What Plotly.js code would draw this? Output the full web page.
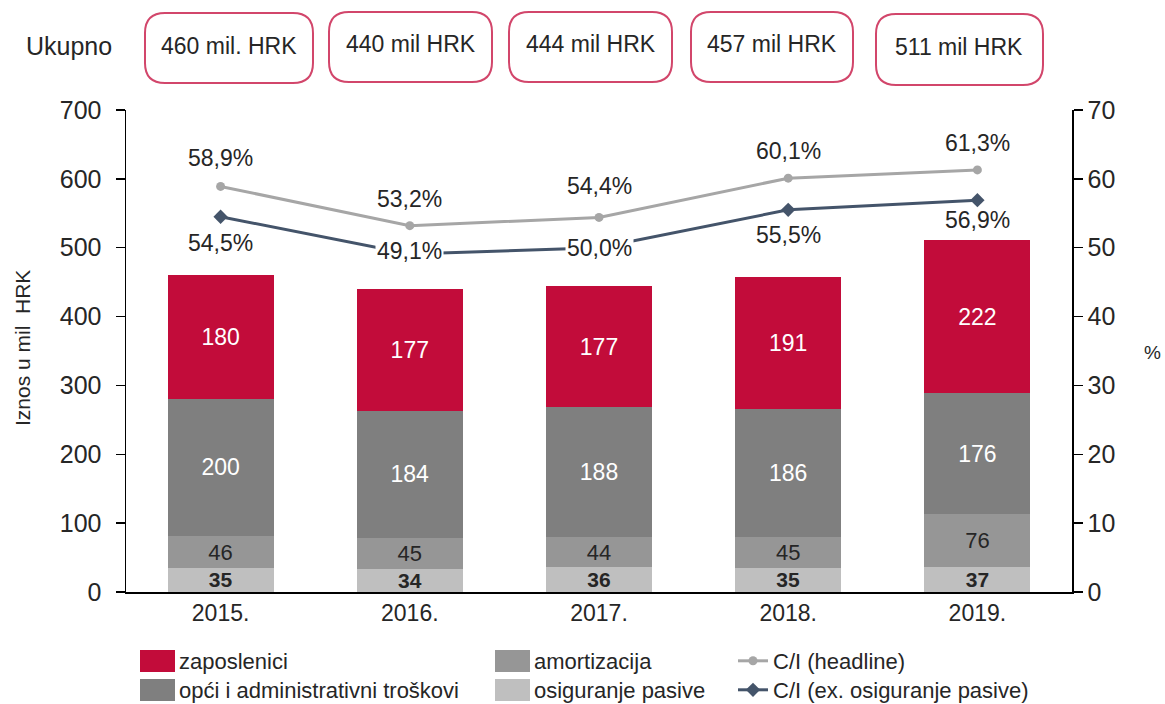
<!DOCTYPE html>
<html>
<head>
<meta charset="utf-8">
<script src="https://cdn.plot.ly/plotly-3.0.1.min.js"></script>
<style>html,body{margin:0;padding:0;background:#fff;}#chart{width:1165px;height:704px;}</style>
</head>
<body>
<div id="chart"></div>
<script>
// ---- data ----
var years = ['2015.', '2016.', '2017.', '2018.', '2019.'];
var osiguranjePasive = [35, 34, 36, 35, 37];
var amortizacija = [46, 45, 44, 45, 76];
var opciAdmin = [200, 184, 188, 186, 176];
var zaposlenici = [180, 177, 177, 191, 222];
var ciHeadline = [58.9, 53.2, 54.4, 60.1, 61.3];
var ciEx = [54.5, 49.1, 50.0, 55.5, 56.9];
var totalLabels = ['460 mil. HRK', '440 mil HRK', '444 mil HRK', '457 mil HRK', '511 mil HRK'];

// ---- layout geometry (pixels) ----
var W = 1165, H = 704;
var mL = 126, mR = 93, mT = 110, mB = 112;
var pw = W - mL - mR, ph = H - mT - mB;
function px(x) { return (x - mL) / pw; }
function py(y) { return (H - mB - y) / ph; }

var FONT = 'Liberation Sans, Arial, sans-serif';
var TXT = '#262626';
var C_ZAP = '#C20C3A', C_OPC = '#7F7F7F', C_AMO = '#969696', C_OSI = '#BFBFBF';
var LEG_SIZE = 22;

function pct(v) { return v.toFixed(1).replace('.', ',') + '%'; }

var barCommon = {type: 'bar', textposition: 'inside', insidetextanchor: 'middle',
  constraintext: 'none', textangle: 0, showlegend: false, hoverinfo: 'skip'};

var traces = [
  Object.assign({}, barCommon, {name: 'osiguranje pasive', x: years, y: osiguranjePasive,
   marker: {color: C_OSI}, text: osiguranjePasive,
   textfont: {color: TXT, size: 21, family: FONT, weight: 'bold'}}),
  Object.assign({}, barCommon, {name: 'amortizacija', x: years, y: amortizacija,
   marker: {color: C_AMO}, text: amortizacija,
   textfont: {color: TXT, size: 22, family: FONT}}),
  Object.assign({}, barCommon, {name: 'opći i administrativni troškovi', x: years, y: opciAdmin,
   marker: {color: C_OPC}, text: opciAdmin,
   textfont: {color: '#ffffff', size: 23, family: FONT}}),
  Object.assign({}, barCommon, {name: 'zaposlenici', x: years, y: zaposlenici,
   marker: {color: C_ZAP}, text: zaposlenici,
   textfont: {color: '#ffffff', size: 23, family: FONT}}),
  {type: 'scatter', mode: 'lines+markers', name: 'C/I (headline)', x: years, y: ciHeadline,
   yaxis: 'y2', line: {color: '#A6A6A6', width: 3},
   marker: {symbol: 'circle', size: 9, color: '#A6A6A6'},
   legend: 'legend', hoverinfo: 'skip'},
  {type: 'scatter', mode: 'lines+markers', name: 'C/I (ex. osiguranje pasive)', x: years, y: ciEx,
   yaxis: 'y2', line: {color: '#44546A', width: 3},
   marker: {symbol: 'diamond', size: 11, color: '#44546A'},
   legend: 'legend2', hoverinfo: 'skip'}
];

var annotations = [];
var shapes = [];
var headShift = [28, 27, 31, 27, 27];
var exShift = [-26, 3, 0, -25, -20];
years.forEach(function (yr, i) {
  // category axis: annotation x given as category index
  annotations.push({x: i, y: ciHeadline[i], xref: 'x', yref: 'y2', text: pct(ciHeadline[i]),
    showarrow: false, xanchor: 'center', yanchor: 'middle', yshift: headShift[i],
    font: {size: 23, color: TXT, family: FONT}});
  annotations.push({x: i, y: ciEx[i], xref: 'x', yref: 'y2', text: pct(ciEx[i]),
    showarrow: false, xanchor: 'center', yanchor: 'middle', yshift: exShift[i],
    bgcolor: (exShift[i] > -5 ? '#ffffff' : 'rgba(0,0,0,0)'),
    borderpad: 1, font: {size: 23, color: TXT, family: FONT}});
});

// axis titles and "Ukupno"
annotations.push({xref: 'paper', yref: 'paper', x: px(22), y: py(348), text: 'Iznos u mil  HRK',
  xanchor: 'center', yanchor: 'middle',
  textangle: -90, showarrow: false, font: {size: 21, color: TXT, family: FONT}});
annotations.push({xref: 'paper', yref: 'paper', x: px(1152), y: py(352), text: '%',
  xanchor: 'center', yanchor: 'middle',
  showarrow: false, font: {size: 19, color: TXT, family: FONT}});
annotations.push({xref: 'paper', yref: 'paper', x: px(69), y: py(46), text: 'Ukupno',
  xanchor: 'center', yanchor: 'middle',
  showarrow: false, font: {size: 25, color: TXT, family: FONT}});

// total boxes
var boxPx = [[145, 13, 313, 83], [329, 12, 492, 82], [509, 12, 672, 82], [691, 12, 853, 82], [876, 14, 1043, 85]];
var textPx = [[229, 46], [411, 44], [591, 44], [772, 44], [959, 47]];
function roundRect(x0, y0, x1, y1, r) {
  function P(x, y) { return px(x).toFixed(5) + ',' + py(y).toFixed(5); }
  return 'M' + P(x0 + r, y0) + ' L' + P(x1 - r, y0) + ' Q' + P(x1, y0) + ' ' + P(x1, y0 + r) +
    ' L' + P(x1, y1 - r) + ' Q' + P(x1, y1) + ' ' + P(x1 - r, y1) +
    ' L' + P(x0 + r, y1) + ' Q' + P(x0, y1) + ' ' + P(x0, y1 - r) +
    ' L' + P(x0, y0 + r) + ' Q' + P(x0, y0) + ' ' + P(x0 + r, y0) + ' Z';
}
totalLabels.forEach(function (t, i) {
  var b = boxPx[i];
  shapes.push({type: 'path', xref: 'paper', yref: 'paper', path: roundRect(b[0], b[1], b[2], b[3], 20),
    line: {color: '#D2466B', width: 2}, fillcolor: 'rgba(0,0,0,0)'});
  annotations.push({xref: 'paper', yref: 'paper', x: px(textPx[i][0]), y: py(textPx[i][1]), text: t,
    xanchor: 'center', yanchor: 'middle',
    showarrow: false, font: {size: 23, color: TXT, family: FONT}});
});

// legend for the bar series (large swatches like the reference)
var barLegend = [
  {name: traces[3].name, color: C_ZAP, x: 140, y: 661},
  {name: traces[2].name, color: C_OPC, x: 140, y: 690},
  {name: traces[1].name, color: C_AMO, x: 495, y: 661},
  {name: traces[0].name, color: C_OSI, x: 495, y: 690}
];
barLegend.forEach(function (e) {
  shapes.push({type: 'rect', xref: 'paper', yref: 'paper', x0: px(e.x), x1: px(e.x + 35),
    y0: py(e.y + 11), y1: py(e.y - 11), fillcolor: e.color, line: {width: 0}});
  annotations.push({xref: 'paper', yref: 'paper', x: px(e.x + 37), y: py(e.y), text: e.name,
    xanchor: 'left', yanchor: 'middle', showarrow: false, font: {size: LEG_SIZE, color: TXT, family: FONT}});
});

var legendBase = {orientation: 'v', yanchor: 'middle', xanchor: 'left', bgcolor: 'rgba(0,0,0,0)',
  font: {size: LEG_SIZE, color: TXT, family: FONT}, x: px(733)};

var layout = {
  width: W, height: H,
  margin: {l: mL, r: mR, t: mT, b: mB, pad: 0, autoexpand: false},
  paper_bgcolor: '#ffffff', plot_bgcolor: '#ffffff',
  font: {family: FONT, color: TXT, size: 18},
  barmode: 'stack', bargap: 0.44,
  showlegend: true,
  xaxis: {type: 'category', range: [-0.5, years.length - 0.5], showline: true, linecolor: '#000',
    linewidth: 1.5, ticks: '', showgrid: false,
    zeroline: false, tickfont: {size: 23, color: TXT, family: FONT}},
  yaxis: {range: [0, 700], dtick: 100, showline: true, linecolor: '#000', linewidth: 1.5,
    ticks: 'outside', ticklen: 9, tickcolor: '#000', tickwidth: 1.5, showgrid: false, zeroline: false,
    tickfont: {size: 25, color: TXT, family: FONT}, ticklabelstandoff: 9},
  yaxis2: {range: [0, 70], dtick: 10, overlaying: 'y', side: 'right', showline: true, linecolor: '#000',
    linewidth: 1.5, ticks: 'outside', ticklen: 9, tickcolor: '#000', tickwidth: 1.5, showgrid: false,
    zeroline: false, tickfont: {size: 25, color: TXT, family: FONT}},
  legend: Object.assign({}, legendBase, {y: py(661)}),
  legend2: Object.assign({}, legendBase, {y: py(690)}),
  annotations: annotations,
  shapes: shapes
};

Plotly.newPlot('chart', traces, layout, {staticPlot: true, displayModeBar: false});
</script>
</body>
</html>
